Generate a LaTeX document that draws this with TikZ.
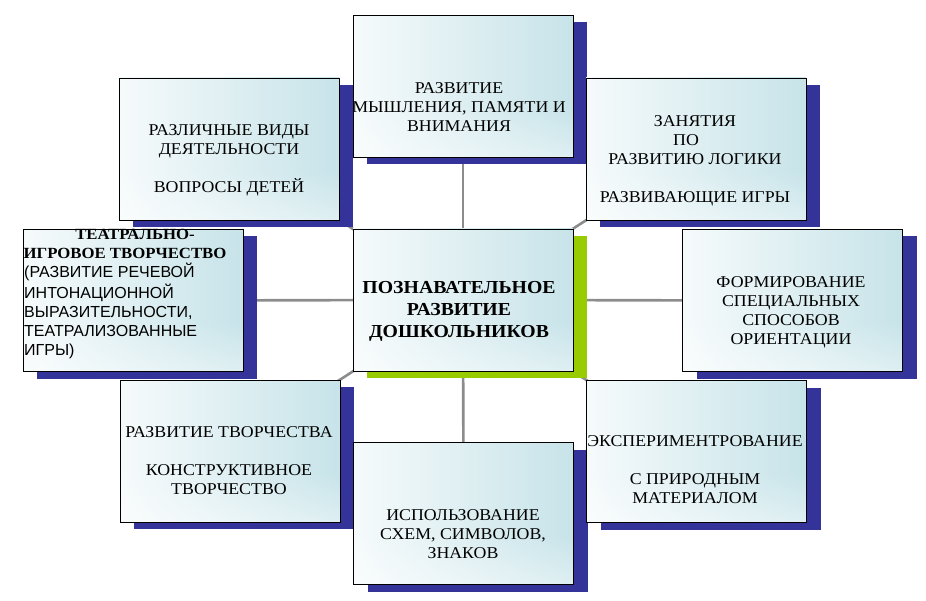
\documentclass[tikz,border=0pt]{standalone}
\usepackage{fontspec}
\setmainfont{Liberation Serif}
\setsansfont{Liberation Sans}
\newfontfamily\boxfont[FakeStretch=1.08]{Liberation Serif}
\usetikzlibrary{shadows}
\definecolor{mynavy}{RGB}{51,51,153}
\definecolor{mygreen}{RGB}{153,204,0}
\definecolor{linegray}{RGB}{140,140,140}
% white on the left and at the bottom, light blue towards the top right
\pgfdeclarefunctionalshading{boxshade}{\pgfpoint{-50bp}{-50bp}}{\pgfpoint{50bp}{50bp}}{}{
  50 add 42 div dup 1 gt {pop 1} if
  exch 35 add 85 div dup 0 lt {pop 0} if
  mul
  dup 0.31 mul 1 exch sub
  exch dup 0.153 mul 1 exch sub
  exch 0.122 mul 1 exch sub
}
\pgfdeclarelayer{background}
\pgfsetlayers{background,main}
\begin{document}
\begin{tikzpicture}[x=1pt,y=-1pt,
  basebox/.style={draw=black, line width=0.9pt, minimum width=220pt, minimum height=142pt,
    inner sep=0pt, shade, shading=boxshade},
  box/.style={basebox, drop shadow={shadow xshift=14pt, shadow yshift=-7pt, fill=mynavy, opacity=1}},
  cbox/.style={basebox, drop shadow={shadow xshift=14pt, shadow yshift=-7pt, fill=mygreen, opacity=1}},
  txt/.style={align=center, inner sep=0pt, font=\boxfont\fontsize{16.5}{19}\selectfont},
  ctxt/.style={align=center, inner sep=0pt, font=\boxfont\fontsize{18.3}{22}\selectfont\bfseries},
  conn/.style={draw=linegray, line width=2.6pt}]
\useasboundingbox (0,0) rectangle (926,601);

% top-left
\node[box] (tl) at (229,149) {};
\node[txt] (tlt) at (229,160) {\strut РАЗЛИЧНЫЕ ВИДЫ\\ДЕЯТЕЛЬНОСТИ\\[19pt]ВОПРОСЫ ДЕТЕЙ\strut};
% top-middle
\node[box] (tm) at (463,86.5) {};
\node[txt] (tmt) at (459,109) {\strut РАЗВИТИЕ\\МЫШЛЕНИЯ, ПАМЯТИ И\\ВНИМАНИЯ\strut};
% top-right
\node[box] (tr) at (696,149) {};
\node[txt] (trt) at (695,161) {\strut ЗАНЯТИЯ\\ПО\kern18pt\relax\\РАЗВИТИЮ ЛОГИКИ\\[19pt]РАЗВИВАЮЩИЕ ИГРЫ\strut};
% left
\node[box] (l) at (133,300.5) {};
\node[align=center, inner sep=0pt, font=\boxfont\fontsize{15.5}{18.5}\selectfont\bfseries] (lth) at (125,245.5)
  {\strut\kern20pt ТЕАТРАЛЬНО-\\ИГРОВОЕ ТВОРЧЕСТВО\strut};
\node[align=left, inner sep=0pt, anchor=west, font=\fontsize{16}{19}\sffamily] (ltb) at (24,312)
  {\strut(РАЗВИТИЕ РЕЧЕВОЙ\\ИНТОНАЦИОННОЙ\\ВЫРАЗИТЕЛЬНОСТИ,\\ТЕАТРАЛИЗОВАННЫЕ\\ИГРЫ)\strut};
% center
\node[cbox] (c) at (463,300) {};
\node[ctxt] (ct) at (459,311.6) {\strut ПОЗНАВАТЕЛЬНОЕ\\РАЗВИТИЕ\\ДОШКОЛЬНИКОВ\strut};
% right
\node[box] (r) at (792.5,300.5) {};
\node[txt] (rt) at (791,312) {\strut ФОРМИРОВАНИЕ\\СПЕЦИАЛЬНЫХ\\СПОСОБОВ\\ОРИЕНТАЦИИ\strut};
% bottom-left
\node[box] (bl) at (230,451) {};
\node[txt] (blt) at (229,462.5) {\strut РАЗВИТИЕ ТВОРЧЕСТВА\\[19pt]КОНСТРУКТИВНОЕ\\ТВОРЧЕСТВО\strut};
% bottom-middle
\node[box] (bm) at (463.5,513.5) {};
\node[txt] (bmt) at (463,535.5) {\strut ИСПОЛЬЗОВАНИЕ\\СХЕМ, СИМВОЛОВ,\\ЗНАКОВ\strut};
% bottom-right
\node[box] (br) at (696.5,451.5) {};
\node[txt] (brt) at (695,471.5) {\strut ЭКСПЕРИМЕНТРОВАНИЕ\\[19pt]С ПРИРОДНЫМ\\МАТЕРИАЛОМ\strut};

\begin{pgfonlayer}{background}
  \draw[conn] (c.center) -- (tm.center);
  \draw[conn] (c.center) -- (bm.center);
  \draw[conn] (c.center) -- (l.center);
  \draw[conn] (c.center) -- (r.center);
  \draw[conn] (c.center) -- (tl.center);
  \draw[conn] (c.center) -- (tr.center);
  \draw[conn] (c.center) -- (bl.center);
  \draw[conn] (c.center) -- (br.center);
\end{pgfonlayer}
\end{tikzpicture}
\end{document}
